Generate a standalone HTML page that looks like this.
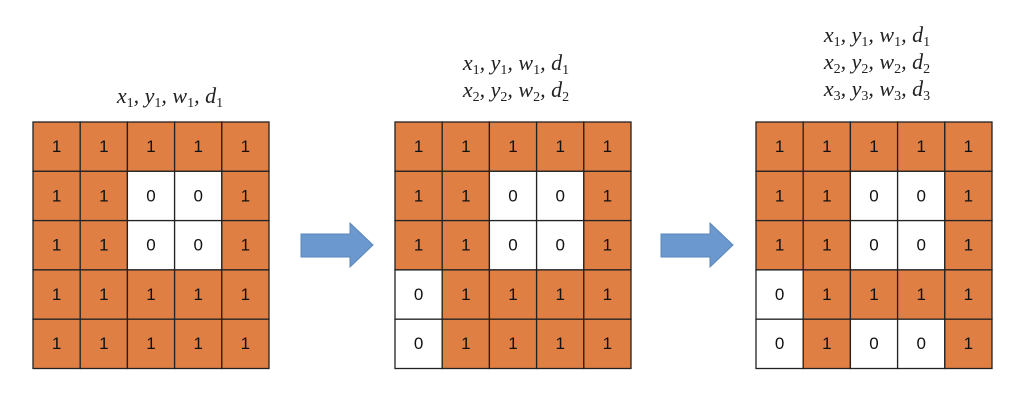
<!DOCTYPE html>
<html><head><style>body{margin:0;background:#fff}</style></head><body>
<svg width="1024" height="403" xmlns="http://www.w3.org/2000/svg" font-family="Liberation Sans, sans-serif">
<defs><style>.t{font-size:17px;text-anchor:middle;fill:#111}.m{font-family:"Liberation Serif",serif;font-style:italic;font-size:22px;text-anchor:middle;fill:#222}.m tspan.s{font-style:normal;font-size:14px}</style></defs>
<g id="grids"></g>
<polygon points="301,234 350,234 350,223 373,245 350,267 350,257 301,257" fill="#6a98cf" stroke="#5a86bb"/>
<polygon points="661,234 710,234 710,223 733,245 710,267 710,257 661,257" fill="#6a98cf" stroke="#5a86bb"/>
<text class="m" x="170" y="103">x<tspan class="s" dy="4">1</tspan><tspan dy="-4">, y</tspan><tspan class="s" dy="4">1</tspan><tspan dy="-4">, w</tspan><tspan class="s" dy="4">1</tspan><tspan dy="-4">, d</tspan><tspan class="s" dy="4">1</tspan></text>
<text class="m" x="516" y="70">x<tspan class="s" dy="4">1</tspan><tspan dy="-4">, y</tspan><tspan class="s" dy="4">1</tspan><tspan dy="-4">, w</tspan><tspan class="s" dy="4">1</tspan><tspan dy="-4">, d</tspan><tspan class="s" dy="4">1</tspan></text>
<text class="m" x="516" y="97">x<tspan class="s" dy="4">2</tspan><tspan dy="-4">, y</tspan><tspan class="s" dy="4">2</tspan><tspan dy="-4">, w</tspan><tspan class="s" dy="4">2</tspan><tspan dy="-4">, d</tspan><tspan class="s" dy="4">2</tspan></text>
<text class="m" x="877" y="42">x<tspan class="s" dy="4">1</tspan><tspan dy="-4">, y</tspan><tspan class="s" dy="4">1</tspan><tspan dy="-4">, w</tspan><tspan class="s" dy="4">1</tspan><tspan dy="-4">, d</tspan><tspan class="s" dy="4">1</tspan></text>
<text class="m" x="877" y="69">x<tspan class="s" dy="4">2</tspan><tspan dy="-4">, y</tspan><tspan class="s" dy="4">2</tspan><tspan dy="-4">, w</tspan><tspan class="s" dy="4">2</tspan><tspan dy="-4">, d</tspan><tspan class="s" dy="4">2</tspan></text>
<text class="m" x="877" y="96">x<tspan class="s" dy="4">3</tspan><tspan dy="-4">, y</tspan><tspan class="s" dy="4">3</tspan><tspan dy="-4">, w</tspan><tspan class="s" dy="4">3</tspan><tspan dy="-4">, d</tspan><tspan class="s" dy="4">3</tspan></text>
</svg>
<script>
const g=[["11111","11001","11001","11111","11111"],["11111","11001","11001","01111","01111"],["11111","11001","11001","01111","01001"]];
const xs=[33,395,756];let s="";
g.forEach((G,k)=>{for(let r=0;r<5;r++)for(let c=0;c<5;c++){const x=xs[k]+c*47.2,y=122+r*49.3,v=G[r][c];
s+=`<rect x="${x}" y="${y}" width="47.2" height="49.3" fill="${v=='1'?'#e07f44':'#fff'}" stroke="#222" stroke-width="1.3"/><text class="t" x="${x+23.6}" y="${y+30}">${v}</text>`;}});
document.getElementById("grids").innerHTML=s;
</script>
</body></html>
